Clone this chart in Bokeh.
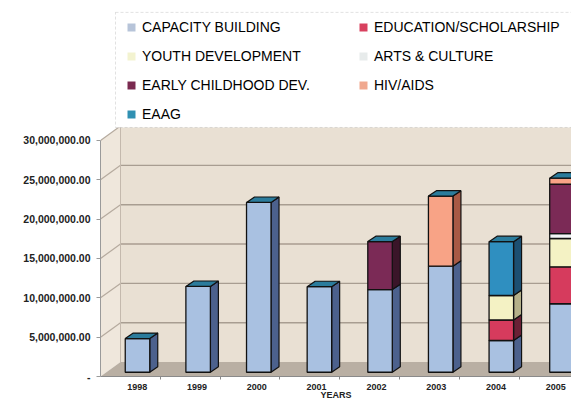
from bokeh.plotting import figure
from bokeh.models import Range1d, FixedTicker, Legend, LegendItem, BoxAnnotation
from bokeh.embed import file_html
from bokeh.resources import INLINE

# ---------------- data ----------------
years = ["1998", "1999", "2000", "2001", "2002", "2003", "2004", "2005"]
capacity_building = [4280000, 10900000, 21570000, 10870000, 10500000, 13480000, 4030000, 8700000]
education_scholarship = [0, 0, 0, 0, 0, 0, 2610000, 4690000]
youth_development = [0, 0, 0, 0, 0, 0, 3110000, 3600000]
arts_culture = [0, 0, 0, 0, 0, 0, 0, 620000]
early_childhood = [0, 0, 0, 0, 6100000, 0, 0, 6300000]
hiv_aids = [0, 0, 0, 0, 0, 8900000, 0, 750000]
eaag = [0, 0, 0, 0, 0, 0, 6840000, 0]

y_ticks = [0, 5000000, 10000000, 15000000, 20000000, 25000000, 30000000]
y_tick_labels = ["-", "5,000,000.00", "10,000,000.00", "15,000,000.00",
                 "20,000,000.00", "25,000,000.00", "30,000,000.00"]

series = [
    ("CAPACITY BUILDING", capacity_building, "#a9c1e1", "#4c618d", "#b7c4d9"),
    ("EDUCATION/SCHOLARSHIP", education_scholarship, "#d63b5d", "#6a2035", "#d8415f"),
    ("YOUTH DEVELOPMENT", youth_development, "#f4f2c4", "#b4b089", "#f3f3d0"),
    ("ARTS & CULTURE", arts_culture, "#f2f5f6", "#b0b8bc", "#e7ebeb"),
    ("EARLY CHILDHOOD DEV.", early_childhood, "#7b2a56", "#3a1529", "#7a2a50"),
    ("HIV/AIDS", hiv_aids, "#f8a386", "#a85a45", "#f0a88f"),
    ("EAAG", eaag, "#2f8fc0", "#1c4f72", "#3090b2"),
]

# ---------------- geometry (layout constants) ----------------
W, H = 571, 402
FL, FB = 100, 23            # frame left / bottom borders (px)
FW, FH = W - FL, H - FB
PXX = 59.8                  # px per category
PXY = 7.933e-6              # px per dollar
X0 = -0.614                 # front-left edge of floor
XR = 7.8
DX = 20 / PXX               # wall depth offsets
DY = 14.5 / PXY
SDX = 8 / PXX               # bar side depth
SDY = 5.5 / PXY
BW = 24.5 / PXX             # bar width
BASE = 4.3 / PXY            # bars stand inside the floor

p = figure(width=W, height=H, output_backend="svg", toolbar_location=None,
           x_range=Range1d(X0, X0 + FW / PXX), y_range=Range1d(0, FH / PXY),
           min_border_left=FL, min_border_bottom=FB, min_border_top=0, min_border_right=0)
p.background_fill_color = "white"
p.border_fill_color = "white"
p.outline_line_color = None
p.grid.visible = False

# walls and floor
p.patch([X0, X0 + DX, X0 + DX, X0], [0, DY, y_ticks[-1] + DY, y_ticks[-1]],
        fill_color="#efe7dc", line_color=None)
p.patch([X0 + DX, XR, XR, X0 + DX], [DY, DY, y_ticks[-1] + DY, y_ticks[-1] + DY],
        fill_color="#e9e0d3", line_color=None)
p.patch([X0, XR, XR, X0 + DX], [0, 0, DY, DY], fill_color="#b9afa3", line_color=None)

# gridlines on back and left walls
gx_back = [[X0 + DX, XR] for v in y_ticks[1:]]
gy_back = [[v + DY, v + DY] for v in y_ticks[1:]]
p.multi_line(gx_back, gy_back, line_color="#a89d91", line_width=1.4)
gx_left = [[X0, X0 + DX] for v in y_ticks[1:]]
gy_left = [[v, v + DY] for v in y_ticks[1:]]
p.multi_line(gx_left, gy_left, line_color="#b5aa9e", line_width=1.2)
p.line([X0 + DX, X0 + DX], [DY, y_ticks[-1] + DY], line_color="#c4b9ad", line_width=1)

# ---------------- bars ----------------
n = len(years)
centers = [0.0047 + 1.014 * i for i in range(n)]
cum = [BASE] * n
tops_color = "#2b7c9c"
legend_items = []
for name, vals, front, side, leg in series:
    L, R, B, T, sxs, sys_ = [], [], [], [], [], []
    for i, v in enumerate(vals):
        if v <= 0:
            continue
        xl = centers[i] - BW / 2
        xr = centers[i] + BW / 2
        y0 = cum[i]
        y1 = cum[i] + v
        cum[i] = y1
        L.append(xl); R.append(xr); B.append(y0); T.append(y1)
        sxs.append([xr, xr + SDX, xr + SDX, xr])
        sys_.append([y0, y0 + SDY, y1 + SDY, y1])
    if L:
        p.patches(sxs, sys_, fill_color=side, line_color="#111111", line_width=1.2)
        p.quad(left=L, right=R, bottom=B, top=T, fill_color=front,
               line_color="#111111", line_width=1.3)
    dummy = p.quad(left=[X0], right=[X0], bottom=[0], top=[0], fill_color=leg,
                   line_color=None)
    legend_items.append((name, dummy))

# top faces
txs, tys = [], []
for i in range(n):
    xl = centers[i] - BW / 2
    xr = centers[i] + BW / 2
    t = cum[i]
    txs.append([xl, xr, xr + SDX, xl + SDX])
    tys.append([t, t, t + SDY, t + SDY])
p.patches(txs, tys, fill_color=tops_color, line_color="#111111", line_width=1.2)

# ---------------- axes ----------------
yax = p.yaxis[0]
yax.ticker = FixedTicker(ticks=y_ticks)
yax.major_label_overrides = {t: s for t, s in zip(y_ticks, y_tick_labels)}
yax.bounds = (y_ticks[0], y_ticks[-1])
yax.axis_line_color = "#9a9a9a"
yax.major_tick_line_color = "#9a9a9a"
yax.major_tick_out = 4
yax.major_tick_in = 0
yax.minor_tick_out = 0
yax.minor_tick_in = 0
yax.major_label_standoff = 6
yax.major_label_text_font = "Liberation Sans"
yax.major_label_text_font_style = "bold"
yax.major_label_text_font_size = "10.5px"
yax.major_label_text_color = "#222222"

xax = p.xaxis[0]
xax.ticker = FixedTicker(ticks=list(range(n)),
                         minor_ticks=[X0 + k for k in range(1, n + 1)])
xax.major_label_overrides = {i: y for i, y in enumerate(years)}
xax.axis_line_color = "#8a8a8a"
xax.major_tick_out = 0
xax.major_tick_in = 0
xax.minor_tick_out = 3
xax.minor_tick_in = 0
xax.minor_tick_line_color = "#8a8a8a"
xax.major_label_standoff = 4
xax.major_label_text_font = "Liberation Sans"
xax.major_label_text_font_style = "bold"
xax.major_label_text_font_size = "9px"
xax.major_label_text_color = "#222222"
xax.axis_label = "YEARS"
xax.axis_label_standoff = -3
xax.axis_label_text_font = "Liberation Sans"
xax.axis_label_text_font_style = "bold"
xax.axis_label_text_font_size = "9px"
xax.axis_label_text_color = "#222222"

# ---------------- legend ----------------
p.add_layout(BoxAnnotation(left=X0 + 15 / PXX, bottom=(FH - 128) / PXY, top=(FH - 12) / PXY,
                           fill_color="white", fill_alpha=1.0,
                           line_color="#9c9c9c", line_width=1, line_dash="3 2"))
order = [0, 2, 4, 6, 1, 3, 5]
legend = Legend(items=[LegendItem(label=legend_items[k][0], renderers=[legend_items[k][1]])
                       for k in order],
                ncols=2, location=(26, FH - 127), margin=0, padding=4,
                glyph_width=10, glyph_height=10, label_height=20, spacing=9,
                label_standoff=6, label_width=207,
                label_text_font="Liberation Sans", label_text_font_size="14px",
                label_text_color="#000000", background_fill_alpha=0,
                border_line_color=None)
p.add_layout(legend)

open("out.html", "w").write(file_html(p, INLINE))
